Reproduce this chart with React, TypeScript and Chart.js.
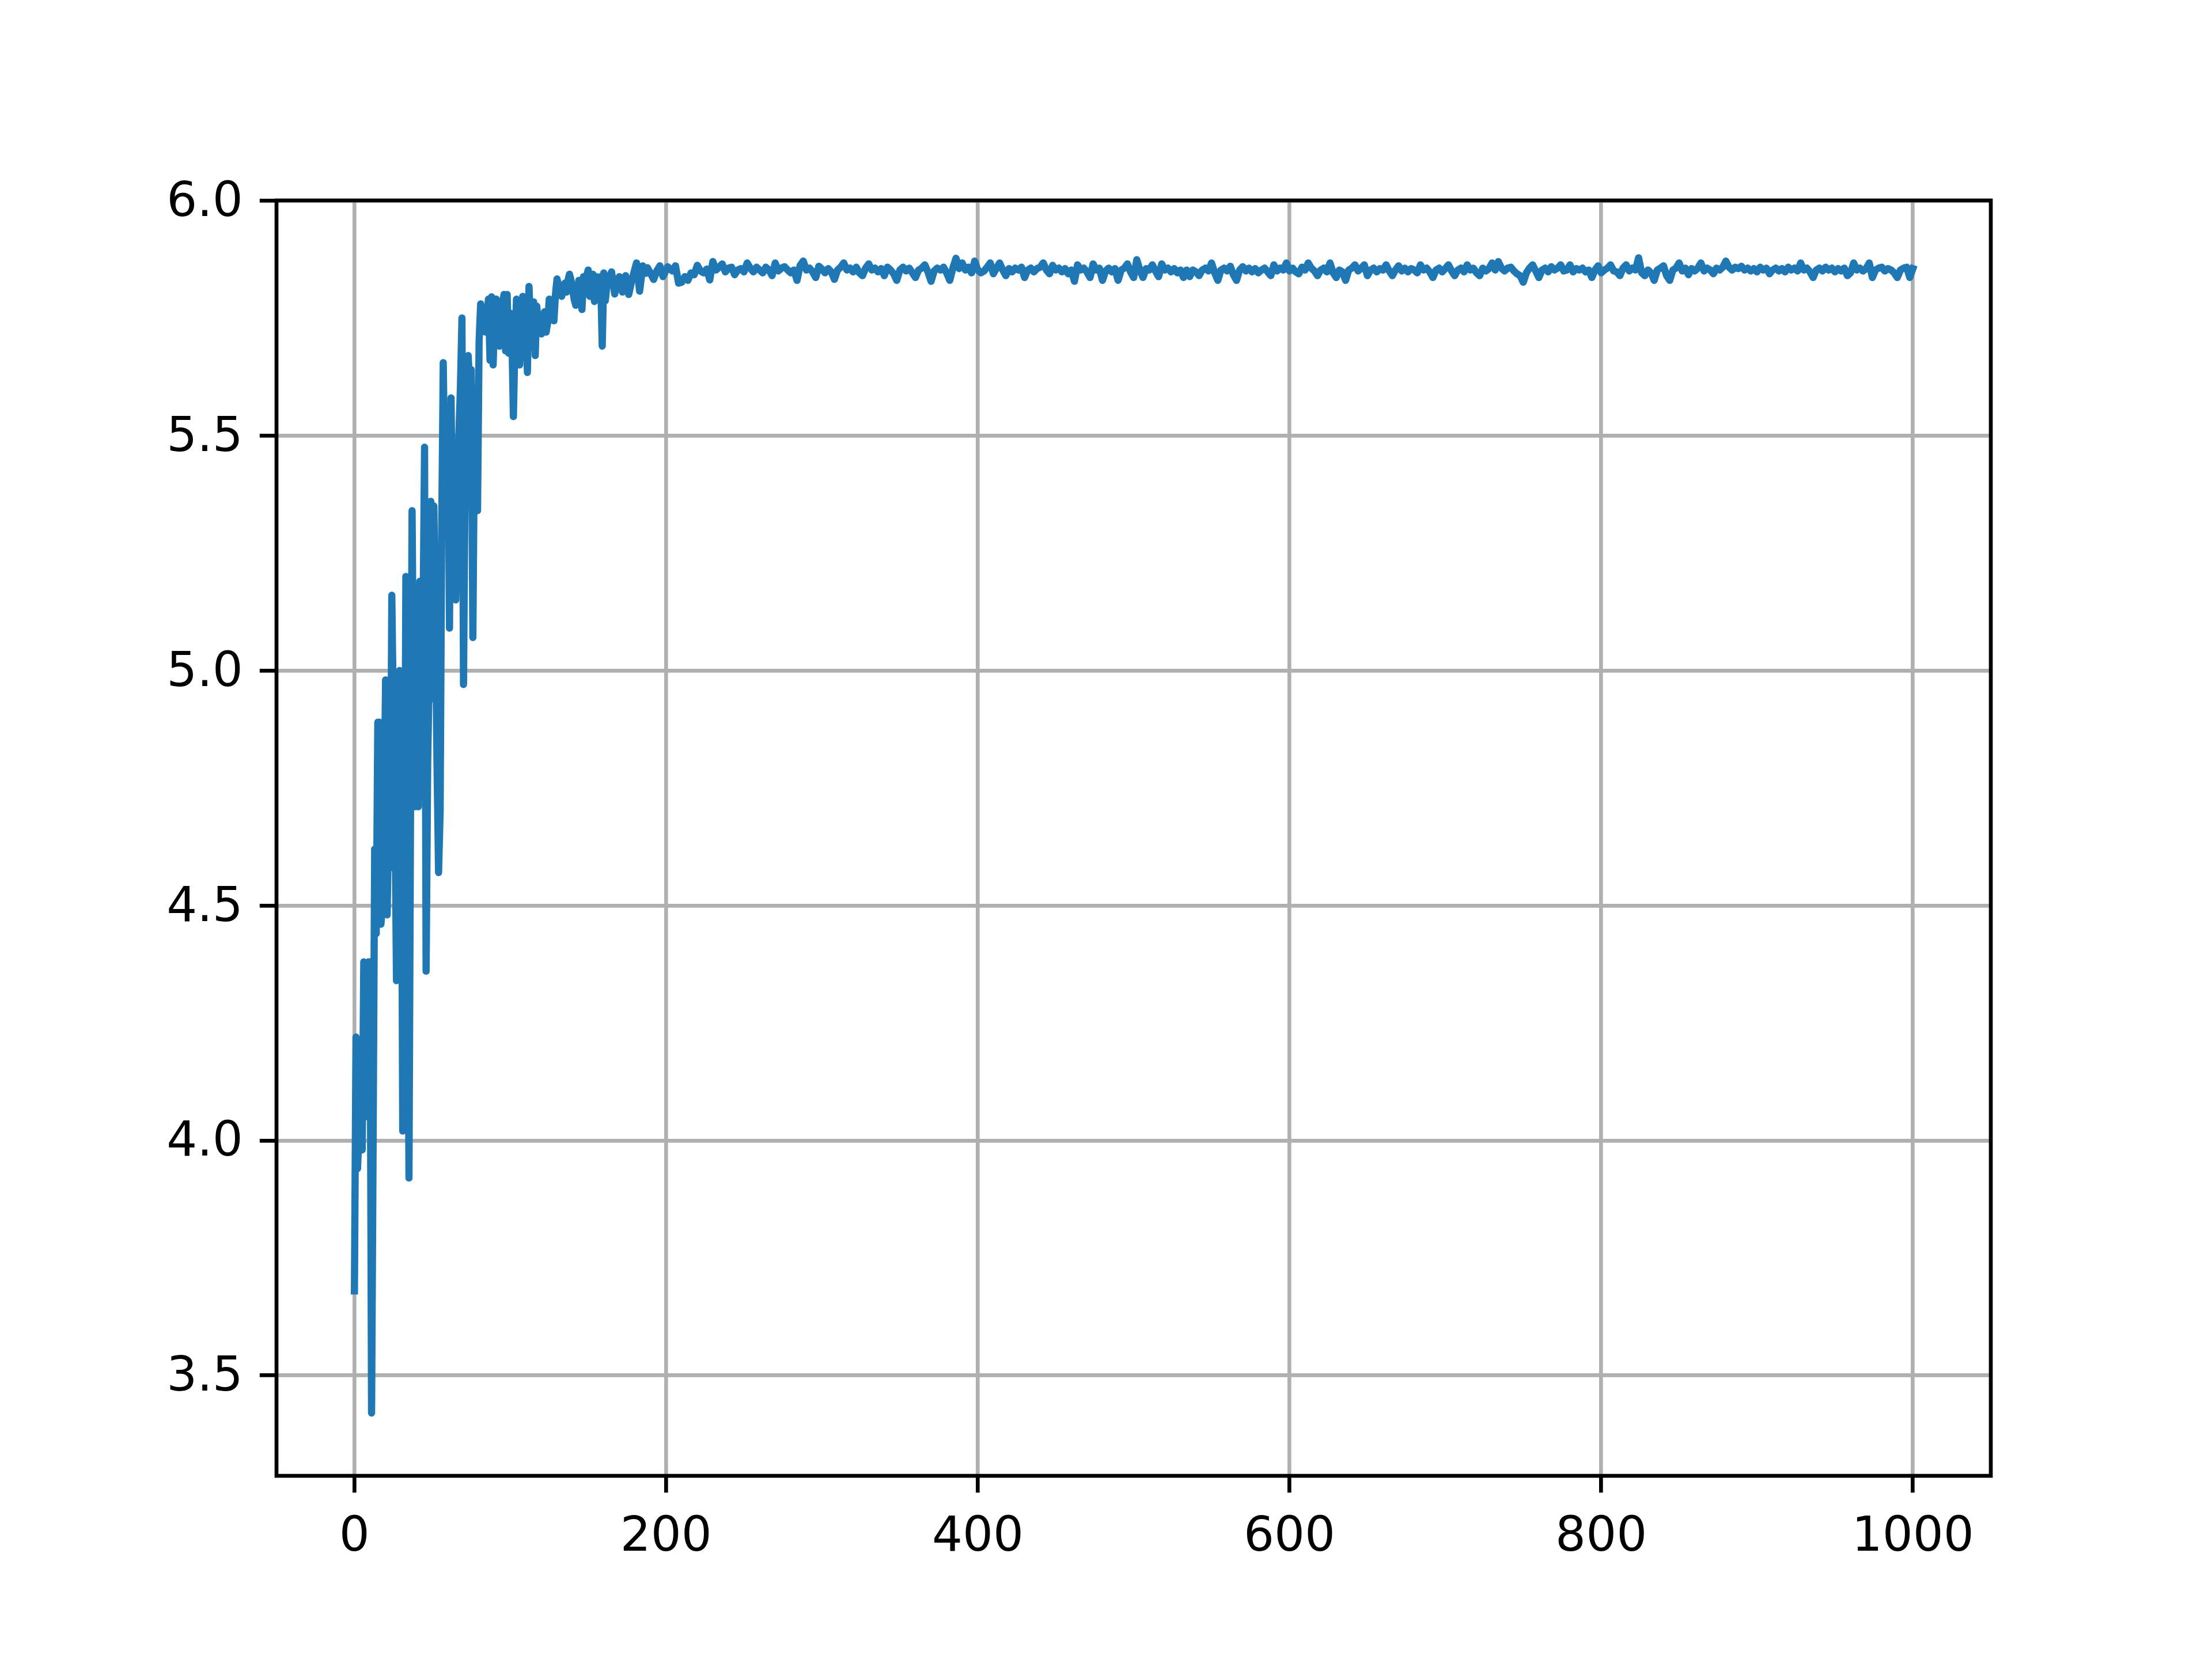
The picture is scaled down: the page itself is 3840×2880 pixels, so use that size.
import React, { useEffect, useRef } from "react";
import { Chart, registerables } from "chart.js";

Chart.register(...registerables);

// Early ramp: y values at x = 0, 1, 2, ... (index is the x value)
const rampY: number[] = [
  3.68, 4.22, 3.94, 4.02, 4.16, 3.98, 4.38, 4.05, 4.12, 4.38,
  4.38, 3.42, 4.0, 4.62, 4.44, 4.89, 4.89, 4.46, 4.5, 4.7,
  4.98, 4.48, 4.7, 4.58, 5.16, 4.9, 4.7, 4.34, 4.52, 5.0,
  4.89, 4.02, 4.4, 5.2, 4.6, 3.92, 4.7, 5.34, 4.9, 4.71,
  5.0, 4.71, 5.19, 4.8, 5.1, 5.475, 4.36, 4.8, 5.0, 5.36,
  4.94, 5.35, 5.1, 4.8, 4.57, 4.7, 5.3, 5.655, 5.4, 5.3,
  5.55, 5.09, 5.58, 5.3, 5.45, 5.15, 5.3, 5.5, 5.6, 5.75,
  4.97, 5.4, 5.55, 5.67, 5.6, 5.64, 5.07, 5.5, 5.6, 5.34,
  5.7, 5.78, 5.76, 5.75, 5.72, 5.75, 5.79, 5.66, 5.795, 5.65,
  5.76, 5.79, 5.72, 5.69, 5.76, 5.78, 5.8, 5.68, 5.8, 5.675,
  5.76, 5.72, 5.54, 5.7, 5.79, 5.72, 5.65, 5.75, 5.796, 5.7,
  5.73, 5.634, 5.817, 5.74, 5.76, 5.784, 5.67, 5.775, 5.74, 5.75,
  5.716, 5.74, 5.763, 5.72, 5.74, 5.79, 5.76, 5.78, 5.744, 5.8,
  5.833, 5.82, 5.8, 5.796, 5.81, 5.824, 5.805, 5.83, 5.843, 5.83,
  5.81, 5.79, 5.777, 5.8, 5.83, 5.8, 5.768, 5.838, 5.82, 5.84,
  5.852, 5.796, 5.82, 5.843, 5.785, 5.838, 5.8, 5.82, 5.838, 5.69,
  5.846, 5.787, 5.82,
];

// Transition: [x, y] pairs between the ramp and the plateau
const transitionPoints: [number, number][] = [
  [163, 5.83], [165, 5.848], [167, 5.801], [169, 5.83], [170, 5.838], [172, 5.805],
  [174, 5.84], [176, 5.8], [178, 5.83], [181, 5.867], [183, 5.807], [185, 5.861],
  [187, 5.845], [188, 5.857], [190, 5.845], [192, 5.832], [194, 5.85], [196, 5.861],
  [198, 5.838], [201, 5.859], [204, 5.85], [206, 5.861], [208, 5.824],
];

// Plateau: y values read every 2 steps starting at x = 210
const plateauStart = 210;
const plateauStep = 2;
const plateauY: number[] = [
  5.826, 5.838, 5.830, 5.846, 5.842, 5.862, 5.850, 5.846, 5.854, 5.831,
  5.870, 5.852, 5.858, 5.865, 5.848, 5.856, 5.858, 5.842, 5.852, 5.855,
  5.848, 5.867, 5.856, 5.848, 5.858, 5.852, 5.846, 5.858, 5.852, 5.840,
  5.867, 5.850, 5.856, 5.859, 5.852, 5.846, 5.852, 5.830, 5.862, 5.871,
  5.852, 5.856, 5.848, 5.836, 5.860, 5.854, 5.846, 5.855, 5.848, 5.832,
  5.852, 5.858, 5.867, 5.852, 5.856, 5.848, 5.858, 5.846, 5.840, 5.856,
  5.865, 5.852, 5.856, 5.848, 5.855, 5.840, 5.858, 5.852, 5.844, 5.830,
  5.852, 5.858, 5.850, 5.856, 5.846, 5.836, 5.852, 5.856, 5.863, 5.848,
  5.828, 5.850, 5.856, 5.852, 5.858, 5.846, 5.830, 5.856, 5.877, 5.855,
  5.867, 5.852, 5.858, 5.846, 5.871, 5.852, 5.846, 5.850, 5.858, 5.867,
  5.844, 5.856, 5.867, 5.852, 5.840, 5.855, 5.848, 5.856, 5.852, 5.858,
  5.836, 5.852, 5.856, 5.848, 5.855, 5.858, 5.867, 5.852, 5.844, 5.862,
  5.852, 5.856, 5.848, 5.855, 5.844, 5.852, 5.828, 5.863, 5.852, 5.856,
  5.848, 5.836, 5.865, 5.852, 5.856, 5.830, 5.850, 5.856, 5.848, 5.855,
  5.830, 5.852, 5.856, 5.865, 5.848, 5.836, 5.874, 5.852, 5.836, 5.855,
  5.852, 5.863, 5.850, 5.838, 5.865, 5.852, 5.856, 5.848, 5.855, 5.846,
  5.852, 5.836, 5.852, 5.838, 5.852, 5.848, 5.840, 5.852, 5.856, 5.850,
  5.867, 5.846, 5.830, 5.852, 5.856, 5.850, 5.860, 5.842, 5.830, 5.852,
  5.859, 5.850, 5.856, 5.848, 5.855, 5.846, 5.852, 5.856, 5.848, 5.840,
  5.863, 5.850, 5.856, 5.852, 5.867, 5.850, 5.856, 5.848, 5.844, 5.858,
  5.852, 5.867, 5.856, 5.850, 5.840, 5.852, 5.856, 5.848, 5.867, 5.846,
  5.836, 5.852, 5.848, 5.830, 5.852, 5.856, 5.863, 5.850, 5.856, 5.863,
  5.840, 5.852, 5.856, 5.848, 5.855, 5.852, 5.863, 5.850, 5.840, 5.852,
  5.861, 5.850, 5.856, 5.848, 5.855, 5.852, 5.846, 5.863, 5.852, 5.856,
  5.848, 5.836, 5.852, 5.856, 5.848, 5.855, 5.863, 5.850, 5.840, 5.852,
  5.856, 5.848, 5.863, 5.852, 5.856, 5.846, 5.840, 5.856, 5.850, 5.855,
  5.867, 5.852, 5.870, 5.856, 5.850, 5.856, 5.858, 5.850, 5.844, 5.840,
  5.826, 5.846, 5.856, 5.863, 5.850, 5.836, 5.852, 5.856, 5.848, 5.859,
  5.852, 5.856, 5.863, 5.850, 5.852, 5.863, 5.848, 5.855, 5.852, 5.856,
  5.848, 5.852, 5.836, 5.852, 5.861, 5.846, 5.852, 5.856, 5.863, 5.850,
  5.848, 5.840, 5.856, 5.863, 5.850, 5.856, 5.852, 5.878, 5.846, 5.840,
  5.852, 5.846, 5.830, 5.852, 5.856, 5.861, 5.840, 5.830, 5.852, 5.856,
  5.867, 5.850, 5.856, 5.842, 5.855, 5.850, 5.856, 5.867, 5.850, 5.856,
  5.852, 5.844, 5.856, 5.852, 5.858, 5.871, 5.858, 5.852, 5.858, 5.855,
  5.860, 5.852, 5.856, 5.850, 5.855, 5.848, 5.858, 5.852, 5.856, 5.844,
  5.852, 5.856, 5.850, 5.855, 5.848, 5.858, 5.852, 5.856, 5.850, 5.867,
  5.852, 5.856, 5.848, 5.836, 5.852, 5.856, 5.850, 5.858, 5.852, 5.856,
  5.848, 5.855, 5.850, 5.856, 5.840, 5.846, 5.867, 5.852, 5.856, 5.850,
  5.855, 5.867, 5.836, 5.852, 5.856, 5.858, 5.850, 5.855, 5.852, 5.846,
  5.836, 5.852, 5.856, 5.858, 5.836, 5.855,
];

const xTickValues: number[] = [0, 200, 400, 600, 800, 1000];
const yTickValues: number[] = [3.5, 4.0, 4.5, 5.0, 5.5, 6.0];

const LINE_COLOR = "#1f77b4";
const PX = 600 / 72; // matplotlib points -> pixels at 600 dpi

export default function App() {
  const ref = useRef<HTMLCanvasElement | null>(null);

  useEffect(() => {
    if (!ref.current) return;
    const points = [
      ...rampY.map((y, i) => ({ x: i, y })),
      ...transitionPoints.map(([x, y]) => ({ x, y })),
      ...plateauY.map((y, i) => ({ x: plateauStart + i * plateauStep, y })),
    ];
    const font = { family: "'DejaVu Sans', sans-serif", size: 10 * PX };

    const frame = {
      id: "frame",
      afterDraw(chart: any) {
        const { ctx, chartArea } = chart;
        ctx.save();
        ctx.strokeStyle = "#000";
        ctx.lineWidth = 0.8 * PX;
        ctx.lineJoin = "miter";
        ctx.strokeRect(
          chartArea.left,
          chartArea.top,
          chartArea.right - chartArea.left,
          chartArea.bottom - chartArea.top
        );
        ctx.restore();
      },
    };

    const gridOpts = {
      color: "#b0b0b0",
      lineWidth: 0.8 * PX,
      drawTicks: true,
      tickLength: 3.5 * PX,
      tickColor: "#000",
      tickWidth: 0.8 * PX,
    };

    const chart = new Chart(ref.current, {
      type: "line",
      data: {
        datasets: [
          {
            data: points,
            borderColor: LINE_COLOR,
            backgroundColor: LINE_COLOR,
            borderWidth: 1.5 * PX,
            pointRadius: 0,
            tension: 0,
            borderJoinStyle: "round",
            borderCapStyle: "square",
            fill: false,
          },
        ],
      },
      options: {
        animation: false,
        responsive: false,
        devicePixelRatio: 1,
        layout: { padding: { left: 0, right: 384, top: 348, bottom: 0 } },
        plugins: { legend: { display: false }, tooltip: { enabled: false } },
        scales: {
          x: {
            type: "linear",
            min: -50,
            max: 1050,
            afterBuildTicks: (s: any) => {
              s.ticks = xTickValues.map((v) => ({ value: v }));
            },
            afterFit: (s: any) => {
              s.height = 318;
            },
            grid: gridOpts,
            border: { display: false },
            ticks: {
              color: "#000",
              font,
              padding: 3.5 * PX,
              maxRotation: 0,
              autoSkip: false,
              callback: (v: any) => String(v),
            },
          },
          y: {
            type: "linear",
            min: 3.2865,
            max: 6.0,
            afterBuildTicks: (s: any) => {
              s.ticks = yTickValues.map((v) => ({ value: v }));
            },
            afterFit: (s: any) => {
              s.width = 480;
            },
            grid: gridOpts,
            border: { display: false },
            ticks: {
              color: "#000",
              font,
              padding: 3.5 * PX,
              labelOffset: 5,
              autoSkip: false,
              callback: (v: any) => Number(v).toFixed(1),
            },
          },
        },
      },
      plugins: [frame],
    } as any);

    return () => chart.destroy();
  }, []);

  return (
    <div style={{ position: "absolute", left: 0, top: 0, width: 3840, height: 2880, background: "#fff" }}>
      <canvas ref={ref} width={3840} height={2880} style={{ width: 3840, height: 2880, display: "block" }} />
    </div>
  );
}
